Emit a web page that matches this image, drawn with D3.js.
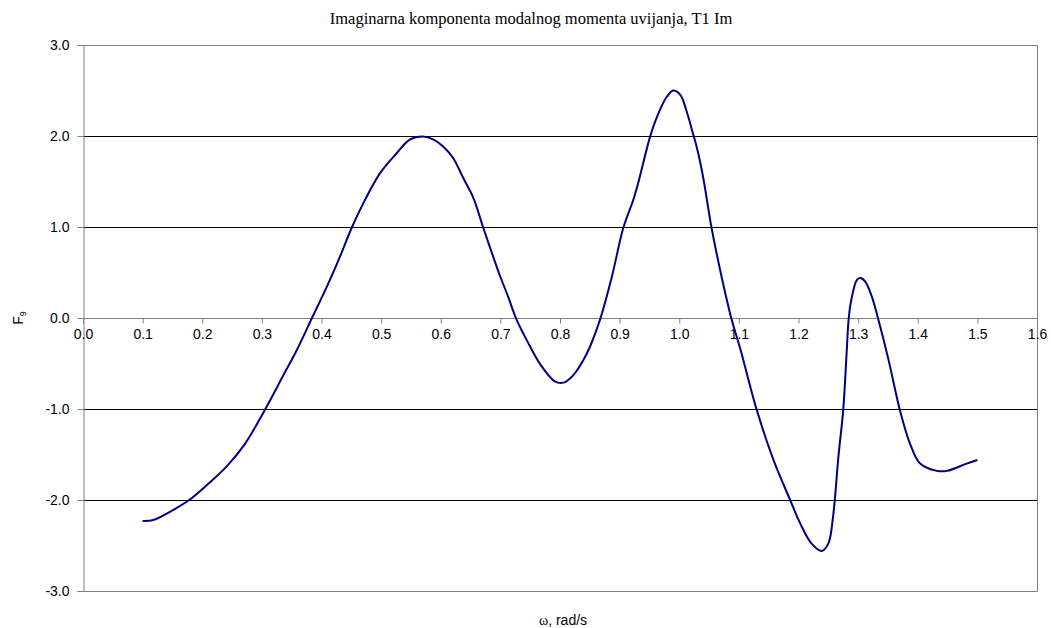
<!DOCTYPE html>
<html><head><meta charset="utf-8">
<script src="https://cdn.jsdelivr.net/npm/d3@7"></script>
<style>body{margin:0;background:#fff}svg{display:block}</style>
</head><body>
<script>
const omega = [0.100,0.118,0.151,0.178,0.207,0.241,0.272,0.305,0.336,0.358,0.384,0.409,0.431,0.451,0.470,0.498,0.526,0.548,0.570,0.588,0.607,0.621,0.638,0.655,0.671,0.685,0.699,0.713,0.727,0.744,0.766,0.792,0.806,0.822,0.845,0.867,0.887,0.906,0.923,0.931,0.951,0.962,0.978,0.990,1.002,1.012,1.022,1.030,1.040,1.054,1.071,1.088,1.102,1.130,1.158,1.186,1.203,1.222,1.239,1.250,1.258,1.267,1.275,1.281,1.284,1.288,1.298,1.304,1.312,1.323,1.334,1.351,1.370,1.387,1.404,1.432,1.449,1.482,1.500];
const f9 = [-2.23,-2.22,-2.11,-2.00,-1.84,-1.63,-1.38,-1.01,-0.63,-0.36,0.00,0.344,0.674,0.997,1.26,1.59,1.81,1.96,1.995,1.96,1.865,1.755,1.535,1.315,0.997,0.73,0.47,0.234,-0.015,-0.24,-0.50,-0.70,-0.71,-0.63,-0.39,-0.02,0.454,0.986,1.30,1.48,1.99,2.20,2.42,2.50,2.45,2.28,2.05,1.86,1.55,0.997,0.454,-0.02,-0.33,-1.01,-1.56,-2.00,-2.26,-2.48,-2.56,-2.48,-2.18,-1.52,-1.01,-0.35,-0.02,0.18,0.42,0.44,0.40,0.234,-0.02,-0.46,-1.01,-1.38,-1.60,-1.68,-1.68,-1.60,-1.56];
const xTicks = [0.0,0.1,0.2,0.3,0.4,0.5,0.6,0.7,0.8,0.9,1.0,1.1,1.2,1.3,1.4,1.5,1.6];
const yTicks = [-3,-2,-1,0,1,2,3];
const gridVals = [-2,-1,1,2];
const titleText = "Imaginarna komponenta modalnog momenta uvijanja, T1 Im";

const W = 1051, H = 628;
const L = 83, R = 1037, T = 45, B = 591;
const svg = d3.select("body").append("svg").attr("width", W).attr("height", H);
const x = d3.scaleLinear().domain([0, 1.6]).range([L, R]);
const y = d3.scaleLinear().domain([-3, 3]).range([B, T]);
const fmt = d => d3.format(".1f")(d).replace("\u2212", "-");

// gridlines
svg.append("g").selectAll("line").data(gridVals).join("line")
  .attr("x1", L).attr("x2", R).attr("y1", d => y(d) + 0.5).attr("y2", d => y(d) + 0.5)
  .attr("stroke", "#000").attr("stroke-width", 1);
// plot border (top, right, bottom)
svg.append("path")
  .attr("d", `M${L},${T + 0.5}H${R + 0.5}V${B + 0.5}H${L}`)
  .attr("fill", "none").attr("stroke", "#808080").attr("stroke-width", 1);

// y axis
const yAxis = d3.axisLeft(y).tickValues(yTicks).tickFormat(fmt).tickSize(6).tickPadding(8);
const gy = svg.append("g").attr("transform", `translate(${L + 0.5},0)`).call(yAxis);
gy.selectAll(".domain,line").attr("stroke", "#808080");
gy.selectAll("text").attr("font-family", "Liberation Sans, Arial, sans-serif").attr("font-size", 14).attr("fill", "#000");

// x axis at zero
const xAxis = d3.axisBottom(x).tickValues(xTicks).tickFormat(fmt).tickSize(5).tickPadding(6);
const gx = svg.append("g").attr("transform", `translate(0,${y(0) + 0.5})`).call(xAxis);
gx.selectAll(".domain,line").attr("stroke", "#808080");
gx.select(".domain").attr("d", `M${L},0H${R + 0.5}`);
gx.selectAll("text").attr("font-family", "Liberation Sans, Arial, sans-serif").attr("font-size", 14).attr("fill", "#000");

// line
const line = d3.line().x((d, i) => x(omega[i])).y(d => y(d)).curve(d3.curveCatmullRom.alpha(0.5));
svg.append("path").datum(f9).attr("d", line)
  .attr("fill", "none").attr("stroke", "#000080").attr("stroke-width", 2).attr("stroke-linejoin", "round");

// title
svg.append("text").attr("x", 531).attr("y", 24).attr("text-anchor", "middle")
  .attr("font-family", "Liberation Serif, Times New Roman, serif").attr("font-size", 16.5).text(titleText);

// x axis title
const xt = svg.append("text").attr("x", 563).attr("y", 625).attr("text-anchor", "middle")
  .attr("font-family", "Liberation Sans, Arial, sans-serif").attr("font-size", 14);
xt.append("tspan").attr("font-family", "Liberation Serif, serif").attr("font-size", 14).text("ω");
xt.append("tspan").text(", rad/s");

// y axis title
const yt = svg.append("text").attr("transform", `translate(23,318) rotate(-90)`).attr("text-anchor", "middle")
  .attr("font-family", "Liberation Sans, Arial, sans-serif").attr("font-size", 14);
yt.append("tspan").text("F");
yt.append("tspan").attr("font-size", 9).attr("dy", 3).text("9");
</script>
</body></html>
